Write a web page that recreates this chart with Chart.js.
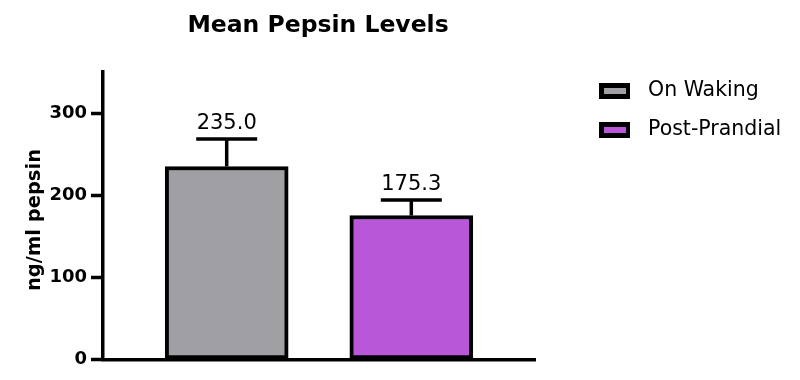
<!DOCTYPE html>
<html>
<head>
<meta charset="utf-8">
<script src="https://cdn.jsdelivr.net/npm/chart.js@4.4.0/dist/chart.umd.min.js"></script>
<style>
  html, body { margin: 0; padding: 0; background: #ffffff; }
  #wrap { width: 800px; height: 380px; position: relative; }
</style>
</head>
<body>
<div id="wrap"><canvas id="chart" width="800" height="380"></canvas></div>
<script>
// ---- data ----
const chartTitle = 'Mean Pepsin Levels';
const yAxisTitle = 'ng/ml pepsin';
const categories = ['On Waking', 'Post-Prandial'];
const meanValues = [235.0, 175.3];
const errorValues = [33.3, 18.8];
const yTickValues = [0, 100, 200, 300];
const barColors = ['#a09fa4', '#b858d8'];

const FONT = '"DejaVu Sans", "Liberation Sans", Arial, sans-serif';

const overlay = {
  id: 'overlay',
  afterDatasetsDraw(chart) {
    const ctx = chart.ctx;
    const xs = chart.scales.x, ys = chart.scales.y;
    ctx.save();
    ctx.strokeStyle = '#000';
    ctx.fillStyle = '#000';
    meanValues.forEach((v, i) => {
      const cx = xs.getPixelForValue(i);
      const yTop = ys.getPixelForValue(v);
      const yErr = ys.getPixelForValue(v + errorValues[i]);
      ctx.lineWidth = 3.5;
      ctx.beginPath();
      ctx.moveTo(cx, yTop);
      ctx.lineTo(cx, yErr);
      ctx.stroke();
      ctx.beginPath();
      ctx.moveTo(cx - 30.5, yErr);
      ctx.lineTo(cx + 30.5, yErr);
      ctx.stroke();
      ctx.font = '21px ' + FONT;
      ctx.textAlign = 'center';
      ctx.textBaseline = 'alphabetic';
      ctx.fillText(v.toFixed(1), cx, yErr - 10);
    });
    ctx.restore();
  },
  afterDraw(chart) {
    const ctx = chart.ctx;
    ctx.save();
    // title
    ctx.fillStyle = '#000';
    ctx.font = 'bold 23.5px ' + FONT;
    ctx.textAlign = 'center';
    ctx.textBaseline = 'alphabetic';
    ctx.fillText(chartTitle, 318, 32);
    // y axis title
    ctx.save();
    ctx.translate(35, 220);
    ctx.rotate(-Math.PI / 2);
    ctx.font = 'bold 19.5px ' + FONT;
    ctx.textBaseline = 'middle';
    ctx.textAlign = 'center';
    ctx.fillText(yAxisTitle, 0, 0);
    ctx.restore();
    // legend
    categories.forEach((c, i) => {
      const y = 83 + i * 39;
      ctx.fillStyle = '#000';
      ctx.fillRect(599, y, 31, 16);
      ctx.fillStyle = barColors[i];
      ctx.fillRect(604, y + 5, 22, 6);
      ctx.fillStyle = '#000';
      ctx.font = '20.5px ' + FONT;
      ctx.textAlign = 'left';
      ctx.textBaseline = 'middle';
      ctx.fillText(c, 648, y + 8);
    });
    ctx.restore();
  }
};

new Chart(document.getElementById('chart'), {
  type: 'bar',
  data: {
    datasets: [{
      label: 'Mean',
      data: meanValues.map((v, i) => ({ x: i, y: v })),
      backgroundColor: barColors,
      borderColor: '#000',
      borderWidth: 4,
      borderSkipped: false,
      barThickness: 123
    }]
  },
  options: {
    responsive: false,
    animation: false,
    devicePixelRatio: 1,
    layout: { padding: { left: 0, right: 265, top: 72, bottom: 20.5 } },
    plugins: {
      legend: { display: false },
      title: { display: false },
      tooltip: { enabled: false }
    },
    scales: {
      x: {
        type: 'linear',
        offset: false,
        min: -0.67,
        max: 1.67,
        grid: { display: false, offset: false },
        ticks: { display: false },
        border: { display: true, color: '#000', width: 3.5 },
        afterFit(scale) { scale.height = 0; }
      },
      y: {
        type: 'linear',
        min: 0,
        max: 350,
        afterBuildTicks(scale) { scale.ticks = yTickValues.map(v => ({ value: v })); },
        grid: {
          display: true,
          drawOnChartArea: false,
          drawTicks: true,
          tickLength: 12,
          tickWidth: 3.5,
          tickColor: '#000'
        },
        border: { display: true, color: '#000', width: 3.5 },
        ticks: {
          color: '#000',
          padding: 4,
          font: { family: FONT, size: 18, weight: 'bold' }
        },
        afterFit(scale) { scale.width = 103; }
      }
    }
  },
  plugins: [overlay]
});
</script>
</body>
</html>
